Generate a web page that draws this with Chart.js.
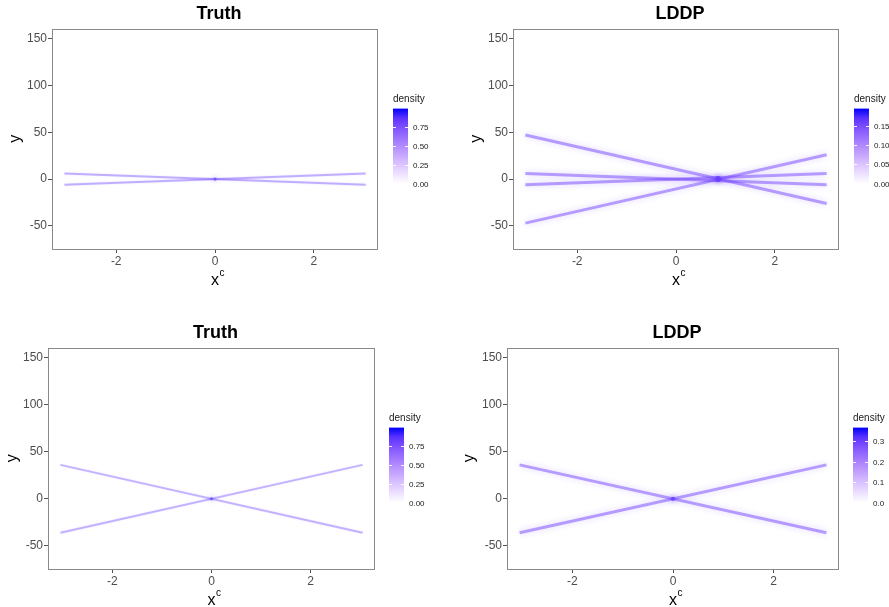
<!DOCTYPE html>
<html><head><meta charset="utf-8">
<script src="https://cdn.jsdelivr.net/npm/chart.js@4/dist/chart.umd.min.js"></script>
<style>
html,body{margin:0;padding:0;background:#fff;overflow:hidden;width:889px;height:607px;position:relative;}
canvas{position:absolute;}
</style></head><body>
<canvas id="c0" width="445" height="303" style="left:0;top:0"></canvas>
<canvas id="c1" width="444" height="303" style="left:445px;top:0"></canvas>
<canvas id="c2" width="445" height="320" style="left:0;top:303px"></canvas>
<canvas id="c3" width="444" height="320" style="left:445px;top:303px"></canvas>
<script>
// ---------------- data ----------------
const panelTitles = ['Truth', 'LDDP', 'Truth', 'LDDP'];
const lineX = [-3.05, 3.05];                   // x at start / end of every line
const truthTopStartY  = [6, -6];
const truthTopEndY    = [-6, 6];
const lddpTopStartY   = [6, -6, 47, -47];
const lddpTopEndY     = [-6, 6, -26, 26];
const truthBotStartY  = [36, -36];
const truthBotEndY    = [-36, 36];
const lddpBotStartY   = [36, -36];
const lddpBotEndY     = [-36, 36];
const peakX = [0, 0.85, 0, 0];                 // highest-density point per panel
const peakY = [0, 0, 0, 0];
const xTicks = [-2, 0, 2];
const yTicks = [-50, 0, 50, 100, 150];
const densityMax = [1.0, 0.194, 1.0, 0.367];
const densityTicks = [[0, 0.25, 0.5, 0.75], [0, 0.05, 0.10, 0.15], [0, 0.25, 0.5, 0.75], [0, 0.1, 0.2, 0.3]];
const densityLabels = [['0.00','0.25','0.50','0.75'], ['0.00','0.05','0.10','0.15'], ['0.00','0.25','0.50','0.75'], ['0.0','0.1','0.2','0.3']];
const startYs = [truthTopStartY, lddpTopStartY, truthBotStartY, lddpBotStartY];
const endYs   = [truthTopEndY, lddpTopEndY, truthBotEndY, lddpBotEndY];

// ---------------- styles / layout ----------------
const FONT = "'Liberation Sans', Arial, sans-serif";
const layoutCfg = [
  {padL: 0,  padR: 67, padT: 0,  yW: 52, yTitlePad: 6.4, dx: 15},
  {padL: 16, padR: 50, padT: 0,  yW: 52, yTitlePad: 6.4, dx: 15},
  {padL: 0,  padR: 70, padT: 16, yW: 48, yTitlePad: 3.4, dx: 14},
  {padL: 12, padR: 50, padT: 16, yW: 50, yTitlePad: 3.4, dx: 14}
];
const lineStyle = [
  {color: 'rgba(120,80,255,0.40)', width: 2,   blur: 2},
  {color: 'rgba(110,60,255,0.48)', width: 3,   blur: 6},
  {color: 'rgba(120,80,255,0.38)', width: 2,   blur: 2},
  {color: 'rgba(110,60,255,0.48)', width: 3,   blur: 6}
];
const peakRadius = [1.5, 3, 1.5, 2];
const gradStops = [[0,'#FFFFFF'],[0.25,'rgb(220,197,255)'],[0.5,'rgb(179,139,255)'],[0.75,'rgb(126,81,255)'],[0.875,'rgb(89,50,255)'],[1,'rgb(0,0,255)']];

// ---------------- plugins ----------------
const glow = {
  id: 'glow',
  beforeDatasetDraw(chart, args) {
    const ds = chart.data.datasets[args.index];
    chart.ctx.save();
    chart.ctx.shadowColor = ds.glowColor || 'rgba(0,0,0,0)';
    chart.ctx.shadowBlur = ds.glowBlur || 0;
  },
  afterDatasetDraw(chart) { chart.ctx.restore(); }
};
const frame = {
  id: 'frame',
  afterDatasetsDraw(chart) {
    const {ctx, chartArea: a} = chart;
    ctx.save();
    ctx.strokeStyle = '#8a8a8a';
    ctx.lineWidth = 1;
    ctx.strokeRect(Math.round(a.left) + 0.5, Math.round(a.top) + 0.5, Math.round(a.right - a.left) - 1, Math.round(a.bottom - a.top));
    ctx.restore();
  }
};
const titleShift = {
  id: 'titleShift',
  afterLayout(chart) {
    const t = chart.titleBlock;
    if (t) { t.left += 4; t.right += 4; }
  }
};
const superC = {
  id: 'superC',
  afterDraw(chart) {
    const {ctx, chartArea: a} = chart;
    const xs = chart.scales.x;
    const cx = (a.left + a.right) / 2;
    const cy = xs.bottom - 11.4 - 9.6;
    ctx.save();
    ctx.font = '10px ' + FONT;
    ctx.fillStyle = '#000';
    ctx.textBaseline = 'middle';
    ctx.textAlign = 'left';
    ctx.fillText('c', cx + 4.5, cy - 8);
    ctx.restore();
  }
};
const colorbar = {
  id: 'colorbar',
  afterDraw(chart, args, opts) {
    const {ctx, chartArea: a} = chart;
    const x0 = a.right + opts.dx, y0 = a.top + 80, w = 15, h = 75;
    const g = ctx.createLinearGradient(0, y0 + h, 0, y0);
    gradStops.forEach(s => g.addColorStop(s[0], s[1]));
    ctx.save();
    ctx.fillStyle = g;
    ctx.fillRect(x0, y0, w, h);
    ctx.font = '8px ' + FONT;
    ctx.textBaseline = 'middle';
    ctx.textAlign = 'left';
    opts.ticks.forEach((v, i) => {
      const y = Math.round(y0 + h - v / opts.max * h) + 0.5;
      ctx.strokeStyle = 'rgba(255,255,255,0.9)';
      ctx.lineWidth = 1;
      ctx.beginPath();
      ctx.moveTo(x0, y); ctx.lineTo(x0 + 3, y);
      ctx.moveTo(x0 + w - 3, y); ctx.lineTo(x0 + w, y);
      ctx.stroke();
      ctx.fillStyle = '#1a1a1a';
      ctx.fillText(opts.labels[i], x0 + w + 5, y);
    });
    ctx.font = '10px ' + FONT;
    ctx.fillStyle = '#1a1a1a';
    ctx.fillText(opts.title, x0, y0 - 9);
    ctx.restore();
  }
};

// ---------------- charts ----------------
function makePanel(i) {
  const L = layoutCfg[i], S = lineStyle[i];
  const datasets = startYs[i].map((sy, k) => ({
    label: 'line ' + (k + 1),
    data: [{x: lineX[0], y: sy}, {x: lineX[1], y: endYs[i][k]}],
    showLine: true,
    borderColor: S.color,
    borderWidth: S.width,
    pointRadius: 0,
    borderCapStyle: 'butt',
    glowColor: S.color,
    glowBlur: S.blur
  }));
  datasets.push({
    label: 'peak',
    data: [{x: peakX[i], y: peakY[i]}],
    pointRadius: peakRadius[i],
    pointBackgroundColor: 'rgba(30,10,255,0.6)',
    pointBorderWidth: 0,
    glowColor: 'rgba(40,20,255,0.9)',
    glowBlur: 5
  });
  new Chart(document.getElementById('c' + i), {
    type: 'scatter',
    data: {datasets},
    plugins: [glow, frame, titleShift, superC, colorbar],
    options: {
      responsive: false,
      animation: false,
      events: [],
      layout: {padding: {left: L.padL, right: L.padR, top: L.padT, bottom: 1}},
      plugins: {
        legend: {display: false},
        tooltip: {enabled: false},
        title: {display: true, text: panelTitles[i], fullSize: false, color: '#000',
                font: {family: FONT, size: 18, weight: 'bold'}, padding: {top: 3, bottom: 4}},
        colorbar: {dx: L.dx, max: densityMax[i], ticks: densityTicks[i], labels: densityLabels[i], title: 'density'}
      },
      scales: {
        x: {
          type: 'linear', min: -3.3, max: 3.3,
          afterBuildTicks: s => { s.ticks = xTicks.map(v => ({value: v})); },
          afterFit: s => { s.height = 53; },
          grid: {display: true, drawOnChartArea: false, drawTicks: true, tickLength: 4, color: '#555'},
          border: {display: false},
          ticks: {color: '#4D4D4D', font: {family: FONT, size: 12}, padding: 1, maxRotation: 0, callback: v => String(v)},
          title: {display: true, text: 'x', color: '#000', font: {family: FONT, size: 16}, padding: {top: 0, bottom: 11.4}}
        },
        y: {
          type: 'linear', min: -74.6, max: 160.6,
          afterBuildTicks: s => { s.ticks = yTicks.map(v => ({value: v})); },
          afterFit: s => { s.width = L.yW; },
          grid: {display: true, drawOnChartArea: false, drawTicks: true, tickLength: 4, color: '#555'},
          border: {display: false},
          ticks: {color: '#4D4D4D', font: {family: FONT, size: 12}, padding: 1, callback: v => String(v)},
          title: {display: true, text: 'y', color: '#000', font: {family: FONT, size: 16}, padding: {top: L.yTitlePad, bottom: 0}}
        }
      }
    }
  });
}
for (let i = 0; i < 4; i++) makePanel(i);
</script>
</body></html>
